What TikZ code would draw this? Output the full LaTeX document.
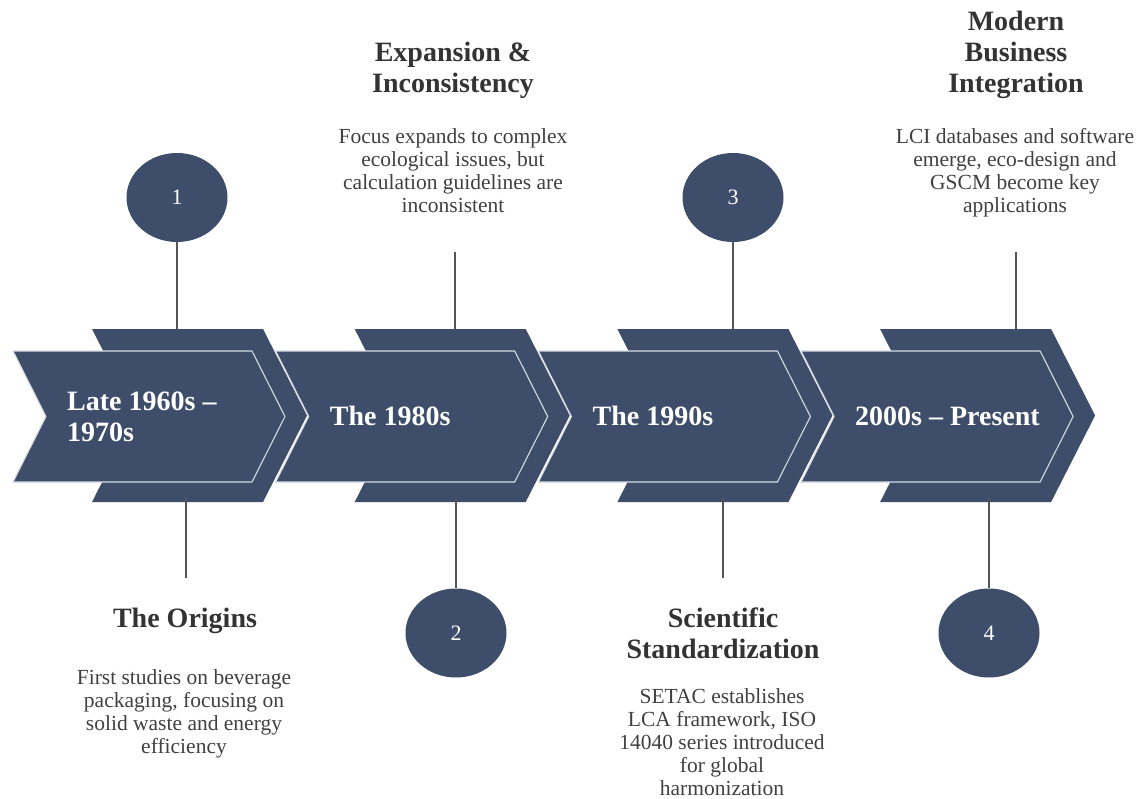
\documentclass[tikz,border=0pt]{standalone}
\usepackage{fontspec}
\setmainfont{Liberation Serif}
\usetikzlibrary{shapes.geometric}
\definecolor{navy}{HTML}{3E4E6A}
\definecolor{headcol}{HTML}{333333}
\definecolor{bodycol}{HTML}{404040}
\definecolor{conncol}{HTML}{555555}
\definecolor{rimcol}{HTML}{D5DAE2}
\begin{document}
\begin{tikzpicture}[x=1pt,y=-1pt,
  backchev/.style={fill=navy},
  frontchev/.style={fill=navy, draw=rimcol, line width=1.1pt, line join=miter},
  numdot/.style={ellipse, fill=navy, minimum width=101pt, minimum height=89pt, inner sep=0pt, text=white, font=\fontsize{22}{24}\selectfont},
  headtxt/.style={anchor=north, inner sep=0pt, align=center, text=headcol, font=\bfseries\fontsize{28}{31}\selectfont},
  bodytxt/.style={anchor=north, inner sep=0pt, align=center, text=bodycol, font=\fontsize{21.5}{23}\selectfont},
  chevlabel/.style={anchor=north west, inner sep=0pt, align=left, text=white, font=\bfseries\fontsize{28}{31}\selectfont},
  connector/.style={draw=conncol, line width=1.5pt}]
\useasboundingbox (0,0) rectangle (1140,798);

% back chevrons
\foreach \i in {0,1,2,3}{
  \pgfmathsetmacro{\xb}{92+262.7*\i}
  \fill[backchev] (\xb,329) -- ++(171,0) -- ++(44,86.5) -- ++(-44,86.5) -- ++(-171,0) -- ++(44,-86.5) -- cycle;
}
% front chevrons
\foreach \i in {0,1,2,3}{
  \pgfmathsetmacro{\xf}{13+262.7*\i}
  \filldraw[frontchev] (\xf,351) -- ++(239,0) -- ++(33,65.5) -- ++(-33,65.5) -- ++(-239,0) -- ++(33,-65.5) -- cycle;
}

% chevron labels
\node[chevlabel] (lab1) at (67,388.8) {\strut Late 1960s --\\1970s};
\node[chevlabel] (lab2) at (329.7,403.8) {\strut The 1980s};
\node[chevlabel] (lab3) at (592.4,403.8) {\strut The 1990s};
\node[chevlabel] (lab4) at (855,403.8) {\strut 2000s -- Present};

% number circles
\node[numdot] (c1) at (177,197.5) {1};
\node[numdot] (c2) at (456,633) {2};
\node[numdot] (c3) at (733,197.5) {3};
\node[numdot] (c4) at (989,633) {4};

% connector anchor points
\coordinate (t1) at (177,329);
\coordinate (b1s) at (186,497);
\coordinate (b1e) at (186,578);
\coordinate (t2s) at (455,252);
\coordinate (t2e) at (455,329);
\coordinate (b2s) at (456,497);
\coordinate (t3) at (733,329);
\coordinate (b3s) at (723,497);
\coordinate (b3e) at (723,578);
\coordinate (t4s) at (1016,252);
\coordinate (t4e) at (1016,329);
\coordinate (b4s) at (989,497);

\draw[connector] (c1.south) -- (t1);
\draw[connector] (b1s) -- (b1e);
\draw[connector] (t2s) -- (t2e);
\draw[connector] (b2s) -- (c2.north);
\draw[connector] (c3.south) -- (t3);
\draw[connector] (b3s) -- (b3e);
\draw[connector] (t4s) -- (t4e);
\draw[connector] (b4s) -- (c4.north);

% text blocks
\node[headtxt] (h2) at (453,39.8) {\strut Expansion \&\\Inconsistency};
\node[bodytxt] (d2) at (453,126.9) {\strut Focus expands to complex\\ecological issues, but\\calculation guidelines are\\inconsistent};
\node[headtxt] (h4) at (1016,8.8) {\strut Modern\\Business\\Integration};
\node[bodytxt] (d4) at (1015,126.9) {\strut LCI databases and software\\emerge, eco-design and\\GSCM become key\\applications};
\node[headtxt] (h1) at (185,605.8) {\strut The Origins};
\node[bodytxt] (d1) at (184,667.9) {\strut First studies on beverage\\packaging, focusing on\\solid waste and energy\\efficiency};
\node[headtxt] (h3) at (723,605.8) {\strut Scientific\\Standardization};
\node[bodytxt] (d3) at (722,686.9) {\strut SETAC establishes\\LCA framework, ISO\\14040 series introduced\\for global\\harmonization};
\end{tikzpicture}
\end{document}
